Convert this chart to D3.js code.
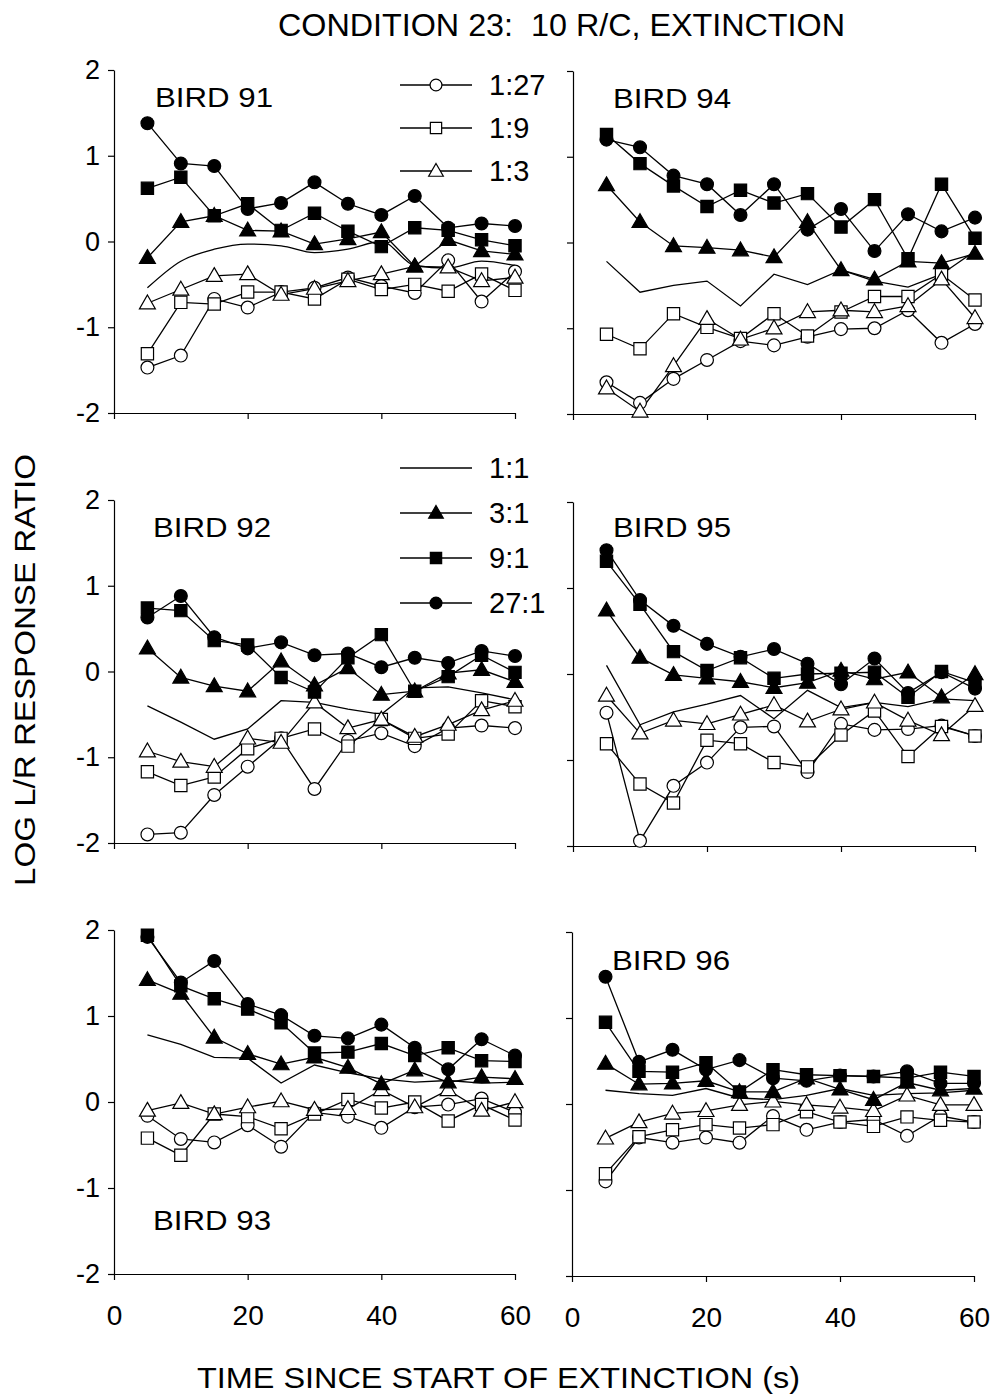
<!DOCTYPE html>
<html>
<head>
<meta charset="utf-8">
<script src="https://cdn.jsdelivr.net/npm/d3@7"></script>
<style>
  body { margin: 0; background: #fff; }
  text { font-family: "Liberation Sans", Arial, Helvetica, sans-serif; fill: #000; }
</style>
</head>
<body>
<svg id="chart" width="994" height="1398"></svg>
<script>
// Time bins (s) since extinction started
const times = [5, 10, 15, 20, 25, 30, 35, 40, 45, 50, 55, 60];
// Component ratios, one line per ratio
const ratios = ["1:27", "1:9", "1:3", "1:1", "3:1", "9:1", "27:1"];
const xTicks = [0, 20, 40, 60];
const yTicks = [2, 1, 0, -1, -2];

// Log L/R response ratio per bird; rows follow the order of `ratios`
const bird91 = [
  [-1.47, -1.33, -0.67, -0.77, -0.59, -0.54, -0.42, -0.52, -0.60, -0.22, -0.70, -0.35],
  [-1.31, -0.71, -0.73, -0.59, -0.59, -0.67, -0.44, -0.56, -0.50, -0.58, -0.38, -0.57],
  [-0.72, -0.56, -0.40, -0.38, -0.62, -0.55, -0.46, -0.38, -0.29, -0.30, -0.46, -0.42],
  [-0.54, -0.23, -0.09, -0.03, -0.05, -0.13, -0.09, 0.00, -0.28, -0.31, -0.23, -0.28],
  [-0.19, 0.23, 0.30, 0.13, 0.12, -0.03, 0.03, 0.11, -0.29, 0.02, -0.11, -0.15],
  [0.62, 0.75, 0.30, 0.44, 0.13, 0.33, 0.12, -0.06, 0.16, 0.13, 0.02, -0.05],
  [1.38, 0.91, 0.88, 0.38, 0.45, 0.69, 0.44, 0.31, 0.53, 0.16, 0.21, 0.18]
];
const bird94 = [
  [-1.63, -1.87, -1.59, -1.37, -1.15, -1.20, -1.10, -1.01, -1.00, -0.79, -1.17, -0.95],
  [-1.07, -1.24, -0.83, -0.99, -1.12, -0.83, -1.09, -0.81, -0.63, -0.63, -0.37, -0.67],
  [-1.70, -1.97, -1.44, -0.89, -1.13, -1.00, -0.81, -0.79, -0.81, -0.74, -0.43, -0.88],
  [-0.22, -0.58, -0.50, -0.45, -0.74, -0.37, -0.49, -0.32, -0.45, -0.52, -0.37, -0.10],
  [0.67, 0.24, -0.04, -0.06, -0.09, -0.17, 0.24, -0.32, -0.43, -0.22, -0.24, -0.13],
  [1.26, 0.92, 0.66, 0.42, 0.61, 0.46, 0.57, 0.18, 0.50, -0.19, 0.68, 0.05],
  [1.20, 1.11, 0.78, 0.68, 0.32, 0.68, 0.15, 0.39, -0.10, 0.33, 0.13, 0.29]
];
const bird92 = [
  [-1.90, -1.88, -1.44, -1.11, -0.78, -1.37, -0.81, -0.72, -0.87, -0.66, -0.63, -0.66],
  [-1.17, -1.33, -1.23, -0.90, -0.78, -0.67, -0.87, -0.56, -0.78, -0.73, -0.34, -0.41],
  [-0.93, -1.05, -1.11, -0.78, -0.83, -0.36, -0.66, -0.56, -0.76, -0.62, -0.45, -0.34],
  [-0.40, -0.59, -0.79, -0.67, -0.34, -0.36, -0.44, -0.50, -0.19, -0.18, -0.25, -0.33],
  [0.27, -0.07, -0.17, -0.23, 0.12, -0.16, 0.04, -0.27, -0.23, -0.02, 0.02, -0.12],
  [0.74, 0.71, 0.36, 0.31, -0.07, -0.24, 0.16, 0.43, -0.23, -0.06, 0.19, -0.01],
  [0.63, 0.88, 0.40, 0.27, 0.34, 0.19, 0.21, 0.05, 0.16, 0.10, 0.24, 0.18]
];
const bird95 = [
  [-0.45, -1.94, -1.30, -1.03, -0.62, -0.61, -1.14, -0.58, -0.65, -0.64, -0.60, -0.72],
  [-0.81, -1.28, -1.50, -0.77, -0.81, -1.03, -1.08, -0.71, -0.43, -0.96, -0.61, -0.72],
  [-0.25, -0.69, -0.54, -0.58, -0.47, -0.36, -0.55, -0.41, -0.33, -0.54, -0.71, -0.37],
  [0.10, -0.59, -0.44, -0.35, -0.25, -0.52, -0.19, -0.39, -0.33, -0.38, -0.29, -0.31],
  [0.74, 0.19, -0.01, -0.05, -0.09, -0.16, -0.10, 0.04, -0.06, 0.02, -0.27, 0.00],
  [1.31, 0.81, 0.26, 0.04, 0.19, -0.05, 0.00, 0.01, 0.02, -0.27, 0.03, -0.10],
  [1.44, 0.86, 0.56, 0.35, 0.20, 0.29, 0.12, -0.12, 0.18, -0.22, 0.02, -0.17]
];
const bird93 = [
  [-0.16, -0.43, -0.47, -0.27, -0.52, -0.12, -0.17, -0.30, -0.06, -0.03, 0.04, -0.12],
  [-0.42, -0.62, -0.14, -0.17, -0.31, -0.14, 0.03, -0.07, 0.00, -0.22, -0.03, -0.21],
  [-0.10, -0.01, -0.14, -0.06, 0.01, -0.09, -0.08, 0.14, -0.06, 0.14, -0.10, 0.00],
  [0.78, 0.67, 0.52, 0.51, 0.22, 0.43, 0.34, 0.27, 0.23, 0.25, 0.22, 0.23],
  [1.42, 1.26, 0.75, 0.56, 0.44, 0.52, 0.40, 0.21, 0.37, 0.23, 0.29, 0.27],
  [1.94, 1.35, 1.20, 1.08, 0.92, 0.57, 0.58, 0.68, 0.54, 0.63, 0.48, 0.47],
  [1.92, 1.39, 1.64, 1.14, 1.01, 0.77, 0.74, 0.90, 0.63, 0.38, 0.73, 0.54]
];
const bird96 = [
  [-0.90, -0.39, -0.45, -0.39, -0.45, -0.14, -0.30, -0.21, -0.18, -0.37, -0.14, -0.21],
  [-0.81, -0.38, -0.30, -0.24, -0.28, -0.24, -0.09, -0.21, -0.26, -0.15, -0.19, -0.21],
  [-0.40, -0.21, -0.11, -0.08, -0.01, 0.03, -0.01, -0.04, -0.08, 0.10, -0.01, -0.01],
  [0.16, 0.12, 0.10, 0.18, 0.07, 0.05, 0.10, 0.18, 0.10, 0.12, 0.13, 0.16],
  [0.47, 0.23, 0.24, 0.27, 0.14, 0.14, 0.30, 0.17, 0.05, 0.25, 0.16, 0.18],
  [0.95, 0.38, 0.37, 0.48, 0.14, 0.40, 0.34, 0.33, 0.32, 0.30, 0.37, 0.32],
  [1.48, 0.49, 0.63, 0.40, 0.51, 0.30, 0.27, 0.33, 0.32, 0.38, 0.24, 0.24]
];

// Marker style for each ratio (null = plain line)
const markers = [
  { shape: d3.symbolCircle, fill: "#fff", size: 130 },
  { shape: d3.symbolSquare, fill: "#fff", size: 150 },
  { shape: d3.symbolTriangle, fill: "#fff", size: 110 },
  null,
  { shape: d3.symbolTriangle, fill: "#000", size: 110 },
  { shape: d3.symbolSquare, fill: "#000", size: 150 },
  { shape: d3.symbolCircle, fill: "#000", size: 130 }
];

// Panel frames: plot rectangle and label placement
const panels = [
  { name: "BIRD 91", data: bird91, x: [114, 515], y: [70, 413],   yLabels: true,  xLabels: false, lab: [155, 107], smooth: true },
  { name: "BIRD 94", data: bird94, x: [573, 975], y: [71, 414],   yLabels: false, xLabels: false, lab: [613, 108] },
  { name: "BIRD 92", data: bird92, x: [114, 515], y: [500, 843],  yLabels: true,  xLabels: false, lab: [153, 537] },
  { name: "BIRD 95", data: bird95, x: [573, 975], y: [502, 846],  yLabels: false, xLabels: false, lab: [613, 537] },
  { name: "BIRD 93", data: bird93, x: [114, 515], y: [930, 1274], yLabels: true,  xLabels: true,  lab: [153, 1230] },
  { name: "BIRD 96", data: bird96, x: [572, 974], y: [932, 1276], yLabels: false, xLabels: true,  lab: [612, 970] }
];

const svg = d3.select("#chart");
const ink = "#000";
const plain = d => String(d);   // hyphen-minus, as printed on the axes

panels.forEach(p => {
  const x = d3.scaleLinear().domain([0, 60]).range(p.x);
  const y = d3.scaleLinear().domain([-2, 2]).range([p.y[1], p.y[0]]);
  const g = svg.append("g");

  const yAxis = d3.axisLeft(y).tickValues(yTicks).tickSize(6).tickSizeOuter(0).tickPadding(8)
    .tickFormat(p.yLabels ? plain : () => "");
  const xAxis = d3.axisBottom(x).tickValues(xTicks).tickSize(6).tickSizeOuter(0).tickPadding(25)
    .tickFormat(p.xLabels ? plain : () => "");

  const ya = g.append("g").attr("transform", `translate(${p.x[0]},0)`).call(yAxis);
  const xa = g.append("g").attr("transform", `translate(0,${p.y[1]})`).call(xAxis);
  [ya, xa].forEach(a => {
    a.selectAll("path, line").attr("stroke", ink).attr("stroke-width", 1.2);
    a.selectAll("text").attr("font-size", 28).attr("fill", ink)
      .style("font-family", '"Liberation Sans", Arial, sans-serif');
  });
  ya.selectAll("text").attr("font-size", 27);

  // Lines
  p.data.forEach((vals, i) => {
    const pts = times.map((t, k) => [t, vals[k]]);
    const line = d3.line().x(d => x(d[0])).y(d => y(d[1]))
      .curve(p.smooth && i === 3 ? d3.curveMonotoneX : d3.curveLinear);
    g.append("path").datum(pts).attr("d", line)
      .attr("fill", "none").attr("stroke", ink).attr("stroke-width", 1.3);
  });

  // Markers
  p.data.forEach((vals, i) => {
    const m = markers[i];
    if (!m) return;
    const sym = d3.symbol().type(m.shape).size(m.size);
    g.append("g").selectAll("path").data(times.map((t, k) => [t, vals[k]])).join("path")
      .attr("d", sym)
      .attr("transform", d => `translate(${x(d[0])},${y(d[1]) + (m.shape === d3.symbolTriangle ? 1 : 0)})`)
      .attr("fill", m.fill).attr("stroke", ink).attr("stroke-width", 1.2);
  });

  g.append("text").attr("x", p.lab[0]).attr("y", p.lab[1])
    .attr("font-size", 28).attr("textLength", 118).attr("lengthAdjust", "spacingAndGlyphs")
    .text(p.name);
});

// Legends: open-symbol ratios in the top panel, the rest between panels
const legendRows = [
  { i: 0, y: 85 }, { i: 1, y: 128 }, { i: 2, y: 171 },
  { i: 3, y: 468 }, { i: 4, y: 513 }, { i: 5, y: 558 }, { i: 6, y: 603 }
];
const lg = svg.append("g");
legendRows.forEach(r => {
  lg.append("line").attr("x1", 400).attr("x2", 472).attr("y1", r.y).attr("y2", r.y)
    .attr("stroke", ink).attr("stroke-width", 1.3);
  const m = markers[r.i];
  if (m) {
    lg.append("path").attr("d", d3.symbol().type(m.shape).size(m.size * 0.85)())
      .attr("transform", `translate(436,${r.y + (m.shape === d3.symbolTriangle ? 1 : 0)})`)
      .attr("fill", m.fill).attr("stroke", ink).attr("stroke-width", 1.2);
  }
  lg.append("text").attr("x", 489).attr("y", r.y + 10).attr("font-size", 29).text(ratios[r.i]);
});

// Titles
svg.append("text").attr("x", 278).attr("y", 36).attr("font-size", 31)
  .attr("textLength", 567).attr("lengthAdjust", "spacingAndGlyphs")
  .text("CONDITION 23:  10 R/C, EXTINCTION").style("white-space", "pre");
svg.append("text").attr("x", 197).attr("y", 1388).attr("font-size", 30)
  .attr("textLength", 603).attr("lengthAdjust", "spacingAndGlyphs")
  .text("TIME SINCE START OF EXTINCTION (s)");
svg.append("text").attr("transform", "translate(35,886) rotate(-90)").attr("font-size", 30)
  .attr("textLength", 432).attr("lengthAdjust", "spacingAndGlyphs")
  .text("LOG L/R RESPONSE RATIO");
</script>
</body>
</html>
